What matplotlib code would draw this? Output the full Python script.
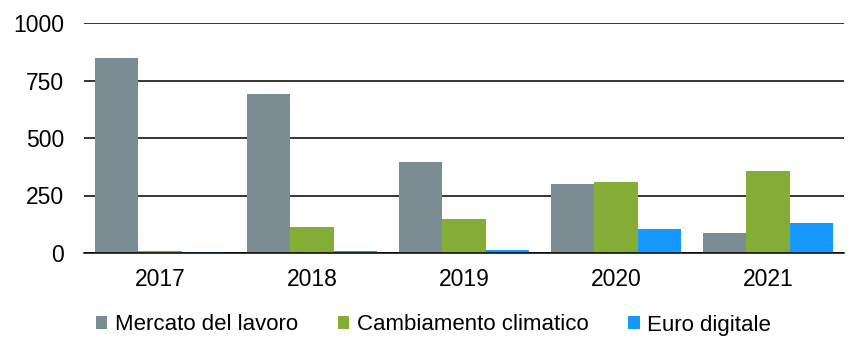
import matplotlib
matplotlib.use("Agg")
import matplotlib.pyplot as plt
import numpy as np

years = ["2017", "2018", "2019", "2020", "2021"]
mercato = [848, 691, 396, 300, 87]
clima = [9, 113, 148, 309, 357]
euro = [4, 9, 13, 104, 130]
series_names = ["Mercato del lavoro", "Cambiamento climatico", "Euro digitale"]
colors = ["#7B8D93", "#84AD35", "#1599FF"]
yticks = [0, 250, 500, 750, 1000]

plt.rcParams['font.family'] = ['Liberation Sans', 'DejaVu Sans']

fig = plt.figure(figsize=(8.67, 3.57), dpi=100)
ax = fig.add_axes([84/867, 1-253/357, 760/867, 230/357])

x = np.arange(len(years))
w = 0.285
for i, (vals, name, c) in enumerate(zip([mercato, clima, euro], series_names, colors)):
    ax.bar(x + (i - 1) * w, vals, width=w, color=c, label=name, zorder=3)

ax.set_xlim(-0.5, len(years) - 0.5)
ax.set_ylim(0, 1000)
ax.set_yticks(yticks)
ax.set_yticklabels([str(t) for t in yticks], fontsize=16.5)
ax.set_xticks(x)
ax.set_xticklabels(years, fontsize=16.5)
ax.tick_params(axis='y', length=0, pad=14.5)
ax.tick_params(axis='x', length=0, pad=11)
ax.yaxis.grid(True, color='black', linewidth=1.1, zorder=0)
for s in ['top', 'right', 'left']:
    ax.spines[s].set_visible(False)
ax.spines['bottom'].set_linewidth(1.1)
ax.spines['bottom'].set_zorder(4)

leg = fig.legend(loc='center', bbox_to_anchor=(0.5, 1-325/357), ncol=3, frameon=False,
                 fontsize=16, handlelength=0.5, handleheight=0.5, handletextpad=0.35,
                 columnspacing=1.8)

fig.savefig("out.png", dpi=100)
